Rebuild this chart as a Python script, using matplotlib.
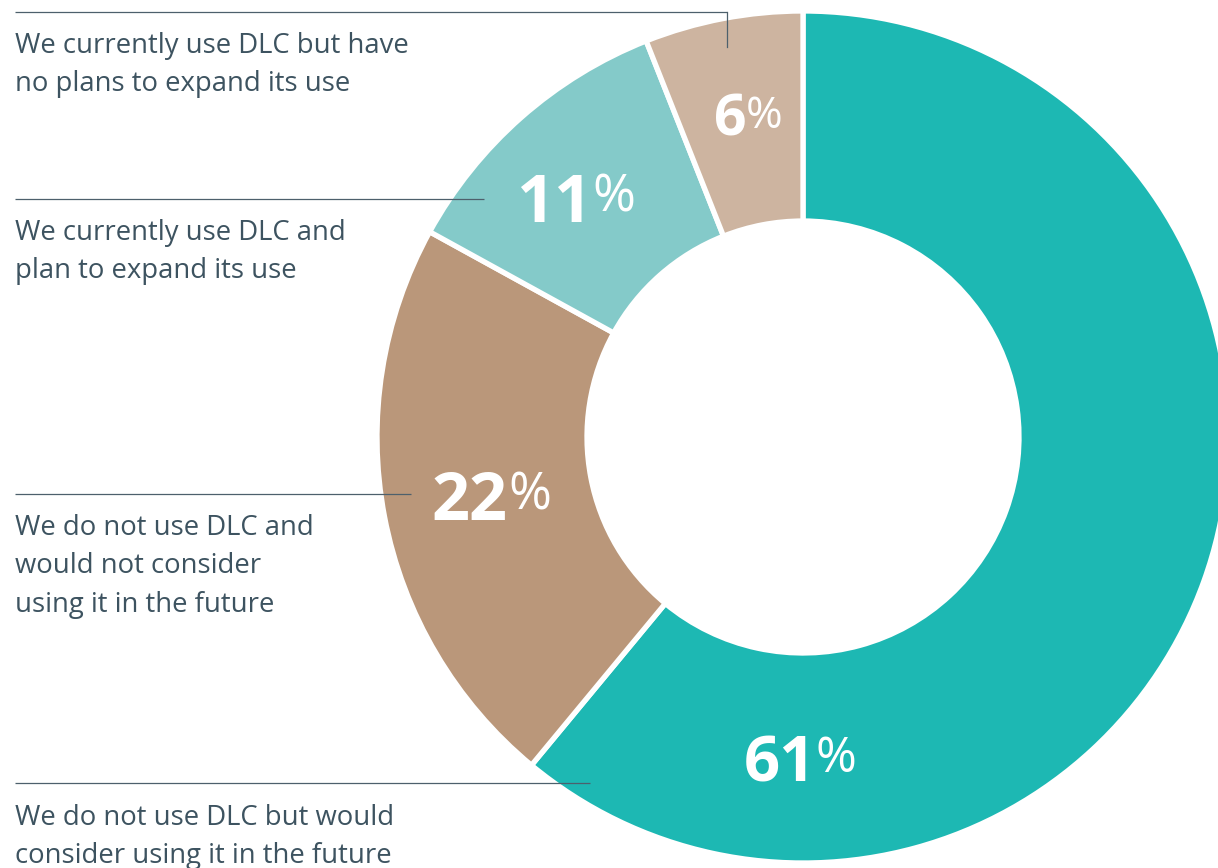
import matplotlib
matplotlib.use("Agg")
import matplotlib.pyplot as plt

# ---- data ----
categories = [
    "We do not use DLC but would\nconsider using it in the future",
    "We do not use DLC and\nwould not consider\nusing it in the future",
    "We currently use DLC and\nplan to expand its use",
    "We currently use DLC but have\nno plans to expand its use",
]
values = [61, 22, 11, 6]
pct_labels = ["61", "22", "11", "6"]
colors = ["#1db8b3", "#ba977a", "#84cac9", "#cdb4a0"]

# ---- layout (pixel coordinates, y from top) ----
W, H = 1218, 868
cx, cy, r_out, r_in = 803, 437, 426, 216
# number right-edge x, digit top y, digit bottom y, font size
pct_pos = [(816, 735, 781, 45.5), (508, 472, 520, 48), (592, 173, 222, 48), (746, 95, 136, 41)]
# first baseline y, rule y, rule end x, leader end y
text_pos = [(825, 783, 590, None), (535, 494, 411, None), (240, 199, 484, None), (53, 12, 727, 47)]
LINE_STEP = 38.3

TXT = "#3d5360"
LINE = "#4d606c"

fig = plt.figure(figsize=(W / 100, H / 100), dpi=100)
ax = fig.add_axes([0, 0, 1, 1])

def Y(y):
    return H - y

ax.pie(values, startangle=90, counterclock=False, colors=colors,
       radius=r_out, center=(cx, Y(cy)),
       wedgeprops=dict(width=r_out - r_in, edgecolor="white", linewidth=3.8))

ax.set_xlim(0, W)
ax.set_ylim(0, H)
ax.set_aspect("equal")
ax.axis("off")

for lab, (xr, ytop, ybot, fs) in zip(pct_labels, pct_pos):
    ax.text(xr, Y(ybot), lab, ha="right", va="baseline", color="white",
            fontsize=fs, fontweight="bold", family="Open Sans")
    ax.text(xr, Y(ytop - 1), "%", ha="left", va="top", color="white",
            fontsize=fs * 0.78, fontweight="normal", family="Open Sans")

for cat, (by, ly, lx, ley) in zip(categories, text_pos):
    ax.plot([15, lx], [Y(ly), Y(ly)], color=LINE, lw=0.9, solid_capstyle="butt")
    if ley is not None:
        ax.plot([lx, lx], [Y(ly), Y(ley)], color=LINE, lw=0.9)
    for i, line in enumerate(cat.split("\n")):
        ax.text(15, Y(by + i * LINE_STEP), line, ha="left", va="baseline",
                color=TXT, fontsize=19.8, family="Open Sans")

fig.savefig("out.png", dpi=100)
